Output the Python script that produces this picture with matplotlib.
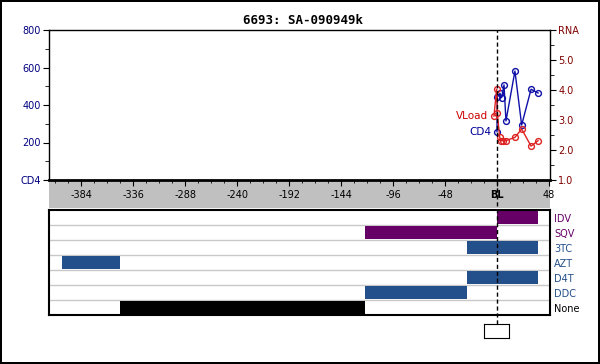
import matplotlib
matplotlib.use("Agg")
import numpy as np
import matplotlib.pyplot as plt
import matplotlib.transforms as mtrans
from matplotlib.lines import Line2D
from matplotlib.patches import Rectangle

# --- DATA ---
TITLE = "6693: SA-090949k"
BL_DAY = 0

cd4_days = [0, 0.3, 2.8, 4.3, 6.5, 8.3, 16.6, 22.8, 31.5, 38]
cd4_vals = [258, 444, 462, 439, 507, 315, 581, 293, 484, 464]

rna_days = [-2.8, -0.3, 0.3, 2.5, 4.0, 5.9, 8.0, 16.6, 22.8, 31.5, 38]
rna_vals = [3.13, 4.03, 3.24, 2.42, 2.31, 2.31, 2.31, 2.42, 2.70, 2.13, 2.31]

x_major = [-384, -336, -288, -240, -192, -144, -96, -48, 0, 48]
x_labels = ["-384", "-336", "-288", "-240", "-192", "-144", "-96", "-48", "BL", "48"]
cd4_ticks = [0, 200, 400, 600, 800]
cd4_labels = ["CD4", "200", "400", "600", "800"]
rna_ticks = [1, 2, 3, 4, 5, 6]
rna_labels = ["1.0", "2.0", "3.0", "4.0", "5.0", "RNA"]

drugs = ["IDV", "SQV", "3TC", "AZT", "D4T", "DDC", "None"]
drug_start = [0, -122, -28, -402, -28, -122, -348]
drug_end = [38, 0, 38, -348, 38, -28, -122]
drug_class = ["PI", "PI", "NRTI", "NRTI", "NRTI", "NRTI", "none"]

# --- STYLE ---
W, H = 600, 364
class_color = {"PI": "#660066", "NRTI": "#234f8a", "none": "#000000"}
CD4_COL = "#1010a8"
RNA_COL = "#dd2222"
FS = 7
MS = 4.2


def px_box(x0, y0, x1, y1):
    # pixel box (top-left origin) -> figure fraction rect
    return [x0 / W, 1 - y1 / H, (x1 - x0) / W, (y1 - y0) / H]


fig = plt.figure(figsize=(W / 100, H / 100), dpi=100)
fig.patch.set_edgecolor("black")
fig.patch.set_linewidth(1.5)

ax1 = fig.add_axes(px_box(49, 30, 550, 180))
ax2 = fig.add_axes(px_box(49, 210, 550, 315), sharex=ax1)
axb = fig.add_axes(px_box(484, 324, 509, 338))

# gray band under the time axis
fig.add_artist(Rectangle((49 / W, 1 - 208 / H), 501 / W, 27 / H, transform=fig.transFigure,
                         facecolor="#c0c0c0", edgecolor="none", zorder=-1))

# --- TOP: CD4 / RNA ---
ax1.plot(cd4_days, cd4_vals, color=CD4_COL, lw=1, marker="o", ms=MS, mfc="none",
         mec=CD4_COL, mew=1, zorder=3)
ax1.set_ylim(0, 800)
ax1.set_xlim(-414, 49)
ax1.set_yticks(cd4_ticks)
ax1.set_yticklabels(cd4_labels)
ax1.set_yticks(np.arange(100, 800, 200), minor=True)
ax1.tick_params(axis="y", which="major", length=4, pad=2, labelsize=FS, labelcolor="#000080")
ax1.tick_params(axis="y", which="minor", length=3)
ax1.set_xticks(x_major)
ax1.set_xticklabels(x_labels)
ax1.set_xticks(np.arange(-408, 49, 12), minor=True)
ax1.tick_params(axis="x", which="major", length=4, pad=3, labelsize=FS)
ax1.tick_params(axis="x", which="minor", length=2.5)
ax1.get_xticklabels()[x_labels.index("BL")].set_fontweight("bold")
ax1.spines["bottom"].set_linewidth(2)
for s in ["left", "top", "right"]:
    ax1.spines[s].set_linewidth(1)

ax1r = ax1.twinx()
ax1r.plot(rna_days, rna_vals, color=RNA_COL, lw=1, marker="o", ms=MS, mfc="none",
          mec=RNA_COL, mew=1, zorder=3)
ax1r.set_ylim(1, 6)
ax1r.set_yticks(rna_ticks)
ax1r.set_yticklabels(rna_labels)
ax1r.set_yticks(np.arange(1.5, 6, 1), minor=True)
ax1r.tick_params(axis="y", which="major", length=4, pad=2, labelsize=FS, labelcolor="#800000")
ax1r.tick_params(axis="y", which="minor", length=3)
for s in ax1r.spines.values():
    s.set_visible(False)

ax1.annotate("CD4", (cd4_days[0], cd4_vals[0]), xytext=(-6, 0), textcoords="offset pixels",
             ha="right", va="center", fontsize=FS + 0.5, color="#000099")
ax1r.annotate("VLoad", (rna_days[0], rna_vals[0]), xytext=(-6, 0), textcoords="offset pixels",
              ha="right", va="center", fontsize=FS + 0.5, color="#cc0000")

# --- BOTTOM: drug bars ---
for i in range(len(drugs) - 1):
    ax2.axhline(i + 0.5, color="#c8c8c8", lw=1, zorder=0)
for i, d in enumerate(drugs):
    ax2.barh(i, drug_end[i] - drug_start[i], left=drug_start[i], height=0.9,
             color=class_color[drug_class[i]], zorder=2)
ax2.set_ylim(len(drugs) - 0.5, -0.5)
ax2.yaxis.tick_right()
ax2.set_yticks(range(len(drugs)))
ax2.set_yticklabels(drugs)
ax2.tick_params(axis="y", length=0, pad=3, labelsize=FS)
for lab, c in zip(ax2.get_yticklabels(), drug_class):
    lab.set_color(class_color[c])
ax2.tick_params(axis="x", which="both", length=0, labelbottom=False)
for s in ax2.spines.values():
    s.set_linewidth(1.5)

axb.set_xticks([])
axb.set_yticks([])

# BL dashed marker running down the whole chart
tr = mtrans.blended_transform_factory(ax1.transData, fig.transFigure)
fig.add_artist(Line2D([BL_DAY, BL_DAY], [1 - 324 / H, 1 - 30 / H], transform=tr,
                      color="black", lw=1, dashes=(3, 2), zorder=5))

fig.text(303 / W, 1 - 20 / H, TITLE, ha="center", va="center", fontsize=9,
         fontweight="bold", family="DejaVu Sans Mono")

fig.savefig("out.png", dpi=100)
